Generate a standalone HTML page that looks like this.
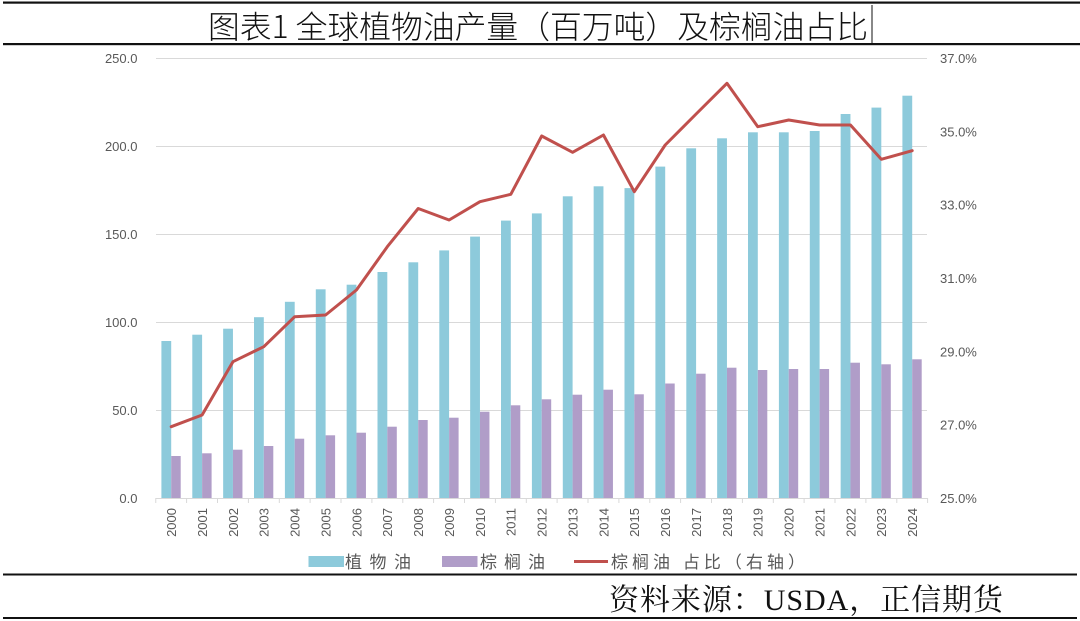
<!DOCTYPE html>
<html><head><meta charset="utf-8"><style>
html,body{margin:0;padding:0;background:#fff;}
body{width:1080px;height:621px;overflow:hidden;position:relative;}
svg{position:absolute;left:0;top:0;}
</style></head><body>
<svg width="1080" height="621" viewBox="0 0 1080 621" xmlns="http://www.w3.org/2000/svg">
<rect width="1080" height="621" fill="#fff"/>
<!-- frame lines -->
<rect x="3" y="1.5" width="1077" height="2.2" fill="#111"/>
<rect x="3" y="43" width="1077" height="2.2" fill="#111"/>
<rect x="3" y="573.5" width="1074" height="2" fill="#111"/>
<rect x="3" y="617" width="1074" height="2" fill="#111"/>
<!-- title -->
<text x="208" y="38" font-family="Noto Sans CJK SC, Liberation Sans, sans-serif" font-weight="300" font-size="31.5" fill="#111" textLength="660" lengthAdjust="spacingAndGlyphs">图表1 全球植物油产量（百万吨）及棕榈油占比</text>
<rect x="871.5" y="5" width="1" height="38" fill="#111"/>

<!-- gridlines -->
<g stroke="#D9D9D9" stroke-width="1">
<line x1="156" y1="58.5" x2="927" y2="58.5"/>
<line x1="156" y1="146.5" x2="927" y2="146.5"/>
<line x1="156" y1="234.5" x2="927" y2="234.5"/>
<line x1="156" y1="322.5" x2="927" y2="322.5"/>
<line x1="156" y1="410.5" x2="927" y2="410.5"/>
</g>

<!-- veg oil bars -->
<g fill="#8DCADB">
<rect x="161.4" y="341" width="9.8" height="157"/>
<rect x="192.3" y="334.7" width="9.8" height="163.3"/>
<rect x="223.15" y="328.7" width="9.8" height="169.3"/>
<rect x="254.0" y="317.2" width="9.8" height="180.8"/>
<rect x="284.9" y="301.8" width="9.8" height="196.2"/>
<rect x="315.8" y="289.3" width="9.8" height="208.7"/>
<rect x="346.65" y="284.7" width="9.8" height="213.3"/>
<rect x="377.5" y="272" width="9.8" height="226"/>
<rect x="408.4" y="262.3" width="9.8" height="235.7"/>
<rect x="439.3" y="250.4" width="9.8" height="247.6"/>
<rect x="470.15" y="236.6" width="9.8" height="261.4"/>
<rect x="501.0" y="220.6" width="9.8" height="277.4"/>
<rect x="531.9" y="213.4" width="9.8" height="284.6"/>
<rect x="562.8" y="196.3" width="9.8" height="301.7"/>
<rect x="593.65" y="186.3" width="9.8" height="311.7"/>
<rect x="624.5" y="188.1" width="9.8" height="309.9"/>
<rect x="655.4" y="166.6" width="9.8" height="331.4"/>
<rect x="686.3" y="148.3" width="9.8" height="349.7"/>
<rect x="717.15" y="138.3" width="9.8" height="359.7"/>
<rect x="748.0" y="132.3" width="9.8" height="365.7"/>
<rect x="778.9" y="132.3" width="9.8" height="365.7"/>
<rect x="809.8" y="131" width="9.8" height="367"/>
<rect x="840.65" y="114" width="9.8" height="384"/>
<rect x="871.5" y="107.6" width="9.8" height="390.4"/>
<rect x="902.4" y="95.7" width="9.8" height="402.3"/>
</g>
<!-- palm oil bars -->
<g fill="#B09DC8">
<rect x="171.2" y="456" width="9.5" height="42"/>
<rect x="202.1" y="453.3" width="9.5" height="44.7"/>
<rect x="232.95" y="449.7" width="9.5" height="48.3"/>
<rect x="263.8" y="446" width="9.5" height="52"/>
<rect x="294.7" y="438.7" width="9.5" height="59.3"/>
<rect x="325.6" y="435.3" width="9.5" height="62.7"/>
<rect x="356.45" y="432.7" width="9.5" height="65.3"/>
<rect x="387.3" y="426.7" width="9.5" height="71.3"/>
<rect x="418.2" y="420" width="9.5" height="78"/>
<rect x="449.1" y="417.7" width="9.5" height="80.3"/>
<rect x="479.95" y="411.7" width="9.5" height="86.3"/>
<rect x="510.8" y="405.3" width="9.5" height="92.7"/>
<rect x="541.7" y="399.3" width="9.5" height="98.7"/>
<rect x="572.6" y="394.7" width="9.5" height="103.3"/>
<rect x="603.45" y="389.7" width="9.5" height="108.3"/>
<rect x="634.3" y="394.3" width="9.5" height="103.7"/>
<rect x="665.2" y="383.5" width="9.5" height="114.5"/>
<rect x="696.1" y="373.7" width="9.5" height="124.3"/>
<rect x="726.95" y="367.7" width="9.5" height="130.3"/>
<rect x="757.8" y="370" width="9.5" height="128"/>
<rect x="788.7" y="369" width="9.5" height="129"/>
<rect x="819.6" y="369" width="9.5" height="129"/>
<rect x="850.45" y="362.7" width="9.5" height="135.3"/>
<rect x="881.3" y="364.3" width="9.5" height="133.7"/>
<rect x="912.2" y="359.3" width="9.5" height="138.7"/>
</g>

<!-- x axis -->
<g stroke="#D9D9D9" stroke-width="1">
<line x1="155.5" y1="498.5" x2="928" y2="498.5"/>
<line x1="155.76" y1="498" x2="155.76" y2="503"/>
<line x1="186.6" y1="498" x2="186.6" y2="503"/>
<line x1="217.5" y1="498" x2="217.5" y2="503"/>
<line x1="248.4" y1="498" x2="248.4" y2="503"/>
<line x1="279.3" y1="498" x2="279.3" y2="503"/>
<line x1="310.1" y1="498" x2="310.1" y2="503"/>
<line x1="341.0" y1="498" x2="341.0" y2="503"/>
<line x1="371.9" y1="498" x2="371.9" y2="503"/>
<line x1="402.8" y1="498" x2="402.8" y2="503"/>
<line x1="433.6" y1="498" x2="433.6" y2="503"/>
<line x1="464.5" y1="498" x2="464.5" y2="503"/>
<line x1="495.4" y1="498" x2="495.4" y2="503"/>
<line x1="526.3" y1="498" x2="526.3" y2="503"/>
<line x1="557.1" y1="498" x2="557.1" y2="503"/>
<line x1="588.0" y1="498" x2="588.0" y2="503"/>
<line x1="618.9" y1="498" x2="618.9" y2="503"/>
<line x1="649.8" y1="498" x2="649.8" y2="503"/>
<line x1="680.6" y1="498" x2="680.6" y2="503"/>
<line x1="711.5" y1="498" x2="711.5" y2="503"/>
<line x1="742.4" y1="498" x2="742.4" y2="503"/>
<line x1="773.3" y1="498" x2="773.3" y2="503"/>
<line x1="804.1" y1="498" x2="804.1" y2="503"/>
<line x1="835.0" y1="498" x2="835.0" y2="503"/>
<line x1="865.9" y1="498" x2="865.9" y2="503"/>
<line x1="896.8" y1="498" x2="896.8" y2="503"/>
<line x1="927.6" y1="498" x2="927.6" y2="503"/>
</g>

<!-- ratio line -->
<polyline fill="none" stroke="#C0504D" stroke-width="3" stroke-linejoin="round" stroke-linecap="round"
points="171.2,426.7 202.1,415 232.95,361.7 263.8,346.7 294.7,316.7 325.6,315 356.45,290 387.3,246.7 418.2,208.5 449.1,220 479.95,201.7 510.8,194.3 541.7,136 572.6,152.3 603.45,135 634.3,191.7 665.2,145 696.1,114 726.95,83.3 757.8,126.7 788.7,120 819.6,125 850.45,125 881.3,159.3 912.2,150.7"/>

<!-- left axis labels -->
<g font-family="Liberation Sans, sans-serif" font-size="13" fill="#595959" text-anchor="end">
<text x="137.5" y="63">250.0</text>
<text x="137.5" y="151">200.0</text>
<text x="137.5" y="239">150.0</text>
<text x="137.5" y="327">100.0</text>
<text x="137.5" y="415">50.0</text>
<text x="137.5" y="503">0.0</text>
</g>
<!-- right axis labels -->
<g font-family="Liberation Sans, sans-serif" font-size="13" fill="#595959">
<text x="940" y="63">37.0%</text>
<text x="940" y="136.3">35.0%</text>
<text x="940" y="209.7">33.0%</text>
<text x="940" y="283">31.0%</text>
<text x="940" y="356.3">29.0%</text>
<text x="940" y="429.7">27.0%</text>
<text x="940" y="503">25.0%</text>
</g>
<!-- year labels -->
<g font-family="Liberation Sans, sans-serif" font-size="13" fill="#595959" text-anchor="end">
<text transform="translate(176,508) rotate(-90)">2000</text>
<text transform="translate(206.9,508) rotate(-90)">2001</text>
<text transform="translate(237.75,508) rotate(-90)">2002</text>
<text transform="translate(268.6,508) rotate(-90)">2003</text>
<text transform="translate(299.5,508) rotate(-90)">2004</text>
<text transform="translate(330.4,508) rotate(-90)">2005</text>
<text transform="translate(361.25,508) rotate(-90)">2006</text>
<text transform="translate(392.1,508) rotate(-90)">2007</text>
<text transform="translate(423,508) rotate(-90)">2008</text>
<text transform="translate(453.9,508) rotate(-90)">2009</text>
<text transform="translate(484.75,508) rotate(-90)">2010</text>
<text transform="translate(515.6,508) rotate(-90)">2011</text>
<text transform="translate(546.5,508) rotate(-90)">2012</text>
<text transform="translate(577.4,508) rotate(-90)">2013</text>
<text transform="translate(608.25,508) rotate(-90)">2014</text>
<text transform="translate(639.1,508) rotate(-90)">2015</text>
<text transform="translate(670,508) rotate(-90)">2016</text>
<text transform="translate(700.9,508) rotate(-90)">2017</text>
<text transform="translate(731.75,508) rotate(-90)">2018</text>
<text transform="translate(762.6,508) rotate(-90)">2019</text>
<text transform="translate(793.5,508) rotate(-90)">2020</text>
<text transform="translate(824.4,508) rotate(-90)">2021</text>
<text transform="translate(855.25,508) rotate(-90)">2022</text>
<text transform="translate(886.1,508) rotate(-90)">2023</text>
<text transform="translate(917,508) rotate(-90)">2024</text>
</g>

<!-- legend -->
<rect x="308.5" y="556" width="35.5" height="11" fill="#8DCADB"/>
<text x="345" y="568" font-family="Liberation Sans, Noto Sans CJK SC, sans-serif" font-size="17" fill="#595959" textLength="66" lengthAdjust="spacing">植物油</text>
<rect x="442" y="556" width="35.5" height="11" fill="#B09DC8"/>
<text x="480" y="568" font-family="Liberation Sans, Noto Sans CJK SC, sans-serif" font-size="17" fill="#595959" textLength="65" lengthAdjust="spacing">棕榈油</text>
<rect x="574" y="560" width="34" height="3" fill="#C0504D"/>
<text x="611" y="568" font-family="Liberation Sans, Noto Sans CJK SC, sans-serif" font-size="17" fill="#595959" textLength="194" lengthAdjust="spacing">棕榈油 占比（右轴）</text>

<!-- source -->
<text x="609" y="610" font-family="Liberation Serif, Noto Serif CJK SC, serif" font-size="30" fill="#111" textLength="394" lengthAdjust="spacing">资料来源：USDA，正信期货</text>
</svg>
</body></html>
